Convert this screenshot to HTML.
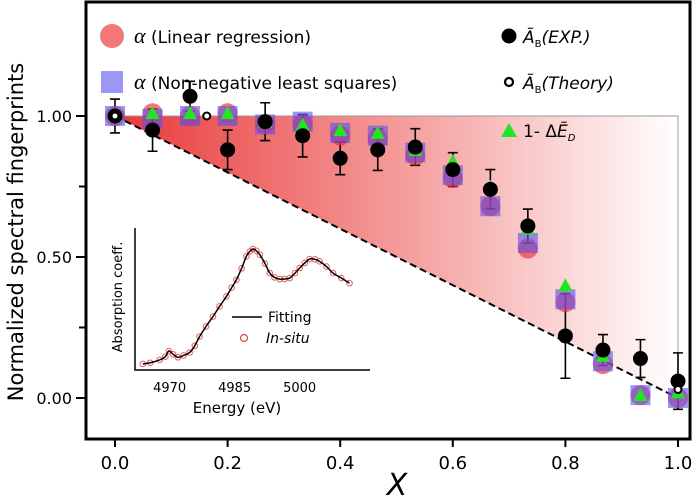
<!DOCTYPE html>
<html><head><meta charset="utf-8"><style>
html,body{margin:0;padding:0;background:#fff;}
svg{display:block;font-family:"DejaVu Sans","Liberation Sans",sans-serif;}
</style></head><body>
<svg id="chart" width="700" height="498" viewBox="0 0 700 498" xmlns="http://www.w3.org/2000/svg">
<defs>
<linearGradient id="shade" x1="0" x2="1" y1="0" y2="0">
<stop offset="0" stop-color="#e83a3a"/><stop offset="0.5" stop-color="#f59a9a"/><stop offset="1" stop-color="#ffffff"/>
</linearGradient>
</defs>
<g id="plot"></g>
</svg>
<script>
const xs = [0,0.0667,0.1333,0.2,0.2667,0.3333,0.4,0.4667,0.5333,0.6,0.6667,0.7333,0.8,0.8667,0.9333,1.0];
const expVals = [1.00,0.95,1.07,0.88,0.98,0.93,0.85,0.88,0.89,0.81,0.74,0.61,0.22,0.17,0.14,0.06];
const expErr = [0.06,0.075,0.053,0.07,0.067,0.075,0.058,0.073,0.065,0.06,0.07,0.06,0.15,0.055,0.067,0.1];
const lrVals = [1.00,1.01,1.00,1.01,0.97,0.97,0.93,0.92,0.86,0.78,0.68,0.53,0.34,0.12,0.01,0.00];
const nnlsVals = [1.00,0.99,1.00,1.00,0.97,0.98,0.94,0.93,0.87,0.79,0.68,0.55,0.35,0.13,0.01,0.00];
const dEVals = [1.00,1.01,1.01,1.01,0.98,0.97,0.95,0.94,0.88,0.84,0.75,0.60,0.40,0.15,0.01,0.02];
const theoryX = [0,0.163,1.0];
const theoryVals = [1.00,1.00,0.03];
const xTicks = ["0.0","0.2","0.4","0.6","0.8","1.0"];
const yTicks = ["0.00","0.50","1.00"];
const insetE = [4963.8,4965.5,4967.7,4969.0,4969.8,4970.8,4971.9,4973.2,4974.6,4975.8,4976.9,4978.4,4980.0,4981.5,4983.1,4984.3,4985.4,4986.6,4987.7,4988.5,4989.2,4990.0,4990.8,4992.0,4993.1,4994.2,4995.4,4996.5,4997.7,4998.9,5000.0,5001.2,5002.3,5003.5,5004.6,5006.2,5007.7,5009.6,5011.5];
const insetA = [0.05,0.06,0.083,0.11,0.157,0.13,0.105,0.12,0.144,0.2,0.276,0.36,0.442,0.525,0.608,0.68,0.746,0.84,0.939,0.98,1.0,0.985,0.953,0.88,0.801,0.765,0.751,0.752,0.76,0.8,0.843,0.885,0.917,0.915,0.898,0.855,0.801,0.76,0.718];
const insetTicks = ["4970","4985","5000"];

const NS="http://www.w3.org/2000/svg";
const g=document.getElementById('plot');
function mk(tag,attrs,parent){const e=document.createElementNS(NS,tag);for(const k in attrs)e.setAttribute(k,attrs[k]);(parent||g).appendChild(e);return e;}
const X=v=>115+v*563;
const Y=v=>398-v*282;

let e=mk('polygon',{points:`${X(0)},${Y(1)} ${X(1)},${Y(1)} ${X(1)},${Y(0)}`,fill:'url(#shade)'});


e=mk('polyline',{points:`${X(0)},${Y(1)} ${X(1)},${Y(1)} ${X(1)},${Y(0)}`,fill:'none',stroke:'#999','stroke-width':1});


e=mk('line',{x1:X(0),y1:Y(1),x2:X(1),y2:Y(0),stroke:'#000','stroke-width':2,'stroke-dasharray':'7,4'});



e=mk('rect',{x:86,y:2,width:604,height:437,fill:'none',stroke:'#000','stroke-width':3});



yTicks.forEach(t=>{const v=parseFloat(t);
 let l=mk('line',{x1:76,x2:86,y1:Y(v),y2:Y(v),stroke:'#000','stroke-width':2});
 
 
 let tx=mk('text',{x:72,y:Y(v)+6,'text-anchor':'end','font-size':16});tx.textContent=t;
 
 
});
[0.25,0.75].forEach(v=>{let l=mk('line',{x1:79,x2:86,y1:Y(v),y2:Y(v),stroke:'#000','stroke-width':2});
 
 });
xTicks.forEach(t=>{const v=parseFloat(t);
 let l=mk('line',{x1:X(v),x2:X(v),y1:439,y2:447,stroke:'#000','stroke-width':2});
 
 
 let tx=mk('text',{x:X(v),y:469,'text-anchor':'middle','font-size':18});tx.textContent=t;
 
 
});
e=mk('text',{x:397,y:495,'text-anchor':'middle','font-size':30,'font-style':'italic'});e.textContent='X';


e=mk('text',{x:0,y:0,transform:'translate(23,232) rotate(-90)','text-anchor':'middle','font-size':21});e.textContent='Normalized spectral fingerprints';



xs.forEach((x,i)=>{const cx=X(x),y1=Y(expVals[i]+expErr[i]),y2=Y(expVals[i]-expErr[i]);
 let p=mk('path',{d:`M${cx},${y1}V${y2}M${cx-5},${y1}H${cx+5}M${cx-5},${y2}H${cx+5}`,stroke:'#000','stroke-width':1.6,fill:'none'});
 
 
});
xs.forEach((x,i)=>{let c=mk('circle',{cx:X(x),cy:Y(lrVals[i]),r:10,fill:'#ee3030','fill-opacity':0.65});
 
 });
xs.forEach((x,i)=>{let r=mk('rect',{x:X(x)-10,y:Y(nnlsVals[i])-10,width:20,height:20,fill:'#5a50f0','fill-opacity':0.6});
 
 });
xs.forEach((x,i)=>{const cx=X(x),cy=Y(dEVals[i]);
 let t=mk('polygon',{points:`${cx-7},${cy+6} ${cx+7},${cy+6} ${cx},${cy-7}`,fill:'#22e622'});
 
 });
xs.forEach((x,i)=>{let c=mk('circle',{cx:X(x),cy:Y(expVals[i]),r:7.5,fill:'#000'});
 
 });
theoryX.forEach((x,i)=>{let c=mk('circle',{cx:X(x),cy:Y(theoryVals[i]),r:3.5,fill:'#fff',stroke:'#000','stroke-width':2});
 
 });

function lt(x,y,html,name,size){let t=mk('text',{x:x,y:y,'font-size':size||17});t.innerHTML=html;return t;}
e=mk('circle',{cx:112,cy:36,r:12,fill:'#ee3030','fill-opacity':0.65});
lt(134,43,'<tspan font-family="Liberation Serif,serif" font-style="italic" font-size="22">α</tspan> (Linear regression)','legend-lr-label');
e=mk('rect',{x:101,y:71,width:22,height:22,fill:'#5a50f0','fill-opacity':0.6});
lt(134,89,'<tspan font-family="Liberation Serif,serif" font-style="italic" font-size="22">α</tspan> (Non-negative least squares)','legend-nnls-label');
e=mk('circle',{cx:509,cy:36,r:7.5,fill:'#000'});
lt(523,43,'<tspan font-style="italic">Ã</tspan><tspan font-size="10" dy="4">B</tspan><tspan dy="-4" font-style="italic">(EXP.)</tspan>','legend-exp-label');
e=mk('circle',{cx:509,cy:82,r:4,fill:'#fff',stroke:'#000','stroke-width':2.2});
lt(523,89,'<tspan font-style="italic">Ã</tspan><tspan font-size="10" dy="4">B</tspan><tspan dy="-4" font-style="italic">(Theory)</tspan>','legend-theory-label');
e=mk('polygon',{points:'501,137 517,137 509,123',fill:'#22e622'});
lt(523,137,'1- Δ<tspan font-style="italic">Ẽ</tspan><tspan font-size="10" dy="4" font-style="italic">D</tspan>','legend-delta-e-label');

// inset
const IX=E=>135+(E-4962)*65/15;
const IY=a=>370-a*121;
e=mk('path',{d:'M135,228V370H370',stroke:'#000','stroke-width':1.5,fill:'none'});
insetTicks.forEach(t=>{let tx=mk('text',{x:IX(+t),y:392,'text-anchor':'middle','font-size':13});tx.textContent=t;
 
 });
e=mk('text',{x:237,y:413,'text-anchor':'middle','font-size':15});e.textContent='Energy (eV)';
e=mk('text',{x:0,y:0,transform:'translate(122,297) rotate(-90)','text-anchor':'middle','font-size':13});e.textContent='Absorption coeff.';
insetE.forEach((E,i)=>{let c=mk('circle',{cx:IX(E),cy:IY(insetA[i]),r:2.8,fill:'none',stroke:'#e86060','stroke-width':1});
 
 });
// smooth path (catmull-rom)
const P=insetE.map((E,i)=>[IX(E),IY(insetA[i])]);
let d=`M${P[0][0]},${P[0][1]}`;
for(let i=0;i<P.length-1;i++){const p0=P[Math.max(0,i-1)],p1=P[i],p2=P[i+1],p3=P[Math.min(P.length-1,i+2)];
 d+=` C${p1[0]+(p2[0]-p0[0])/6},${p1[1]+(p2[1]-p0[1])/6} ${p2[0]-(p3[0]-p1[0])/6},${p2[1]-(p3[1]-p1[1])/6} ${p2[0]},${p2[1]}`;}
e=mk('path',{d:d,fill:'none',stroke:'#000','stroke-width':1.5});

e=mk('line',{x1:232,x2:262,y1:317,y2:317,stroke:'#000','stroke-width':1.5});
lt(268,322,'Fitting','inset-legend-fitting-label',14);
e=mk('circle',{cx:244,cy:338,r:3.5,fill:'none',stroke:'#e04040','stroke-width':1.2});
lt(266,343,'<tspan font-style="italic">In-situ</tspan>','inset-legend-insitu-label',14);
</script>
</body></html>
